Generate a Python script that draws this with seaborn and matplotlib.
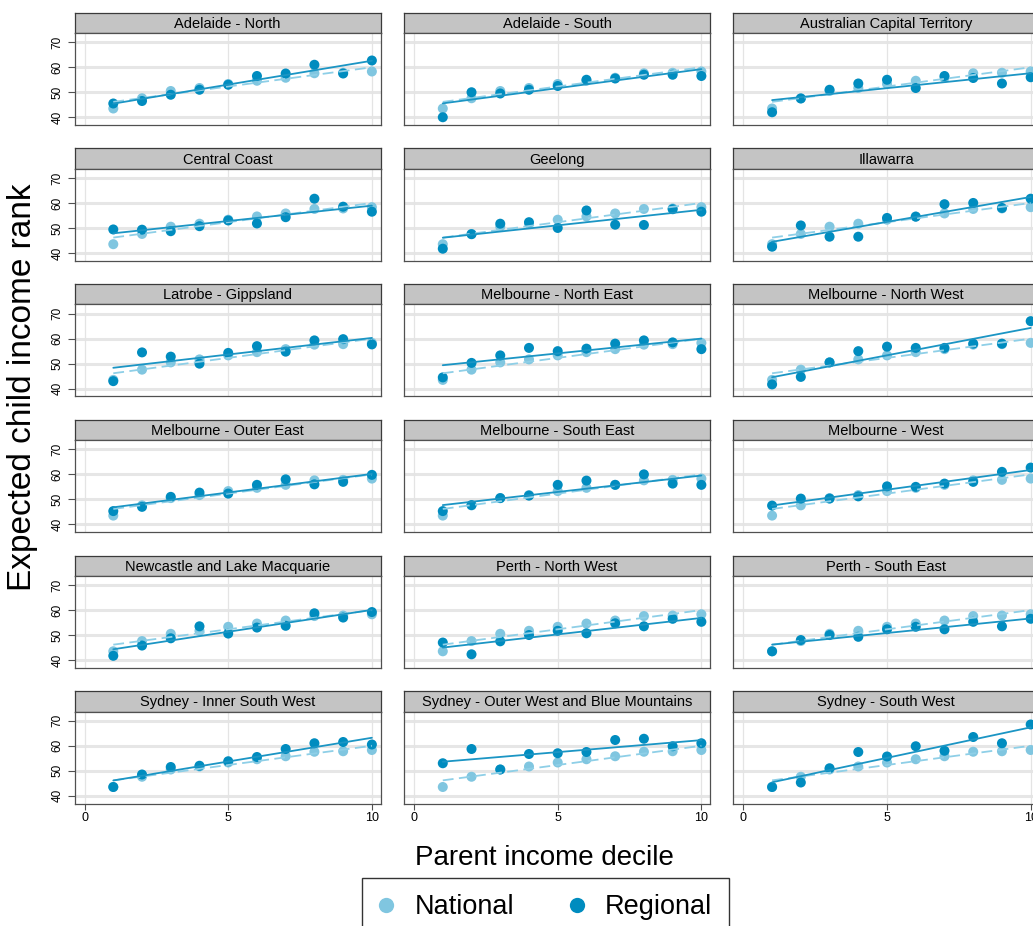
import numpy as np
import pandas as pd
import matplotlib
matplotlib.use("Agg")
import matplotlib.pyplot as plt
from matplotlib.lines import Line2D
import seaborn as sns

# ---------------------------------------------------------------- data
deciles = list(range(1, 11))

# national benchmark (same in every panel)
national = [43.5, 47.6, 50.5, 51.7, 53.3, 54.6, 55.8, 57.6, 57.8, 58.3]

region_names = [
    "Adelaide - North", "Adelaide - South", "Australian Capital Territory",
    "Central Coast", "Geelong", "Illawarra",
    "Latrobe - Gippsland", "Melbourne - North East", "Melbourne - North West",
    "Melbourne - Outer East", "Melbourne - South East", "Melbourne - West",
    "Newcastle and Lake Macquarie", "Perth - North West", "Perth - South East",
    "Sydney - Inner South West", "Sydney - Outer West and Blue Mountains",
    "Sydney - South West",
]

adelaide_north = [45.5, 46.5, 49.0, 51.0, 53.0, 56.5, 57.5, 61.0, 57.5, 62.7]
adelaide_south = [40.0, 50.0, 49.5, 51.0, 52.5, 55.0, 55.5, 57.0, 57.0, 56.5]
act = [42.0, 47.5, 51.0, 53.5, 55.0, 51.7, 56.5, 55.7, 53.5, 56.0]
central_coast = [49.4, 49.3, 48.7, 50.7, 53.0, 51.8, 54.3, 61.7, 58.5, 56.5]
geelong = [41.7, 47.5, 51.7, 52.3, 50.0, 57.0, 51.3, 51.2, 57.5, 56.5]
illawarra = [42.5, 51.0, 46.5, 46.5, 54.0, 54.5, 59.5, 60.0, 58.0, 61.7]
latrobe = [43.0, 54.5, 52.8, 50.0, 54.3, 57.0, 54.8, 59.3, 59.8, 57.7]
melb_north_east = [44.5, 50.3, 53.3, 56.3, 55.0, 56.0, 58.0, 59.3, 58.5, 55.8]
melb_north_west = [41.7, 44.7, 50.5, 55.0, 56.8, 56.3, 56.3, 58.0, 58.0, 67.0]
melb_outer_east = [45.3, 47.0, 51.0, 52.7, 52.3, 55.8, 58.0, 56.0, 57.0, 59.8]
melb_south_east = [45.3, 47.7, 50.5, 51.5, 55.8, 57.5, 55.8, 60.0, 56.3, 55.8]
melb_west = [47.5, 50.3, 50.3, 51.2, 55.2, 55.0, 56.3, 57.0, 61.0, 62.7]
newcastle = [41.7, 45.8, 48.7, 53.5, 50.6, 53.0, 53.7, 58.7, 57.0, 59.2]
perth_north_west = [47.0, 42.3, 47.5, 50.0, 51.7, 50.7, 54.7, 53.5, 56.5, 55.3]
perth_south_east = [43.5, 48.0, 50.0, 49.3, 52.3, 53.3, 52.3, 55.3, 53.5, 56.5]
syd_inner_south_west = [43.5, 48.5, 51.5, 52.0, 53.8, 55.5, 58.7, 61.0, 61.5, 60.5]
syd_outer_west = [53.0, 58.7, 50.5, 56.7, 57.0, 57.5, 62.3, 62.8, 59.8, 61.0]
syd_south_west = [43.5, 45.3, 51.0, 57.5, 55.7, 59.8, 58.0, 63.5, 61.0, 68.5]

regional_series = [
    adelaide_north, adelaide_south, act,
    central_coast, geelong, illawarra,
    latrobe, melb_north_east, melb_north_west,
    melb_outer_east, melb_south_east, melb_west,
    newcastle, perth_north_west, perth_south_east,
    syd_inner_south_west, syd_outer_west, syd_south_west,
]

x_ticks = [0, 5, 10]
y_ticks = [40, 50, 60, 70]

rows = []
for name, vals in zip(region_names, regional_series):
    for d, n, r in zip(deciles, national, vals):
        rows.append({"region": name, "decile": d, "series": "National", "rank": n})
        rows.append({"region": name, "decile": d, "series": "Regional", "rank": r})
df = pd.DataFrame(rows)

# ---------------------------------------------------------------- style
sns.set_theme(style="white")
plt.rcParams["font.family"] = ["Liberation Sans", "DejaVu Sans"]
plt.rcParams["text.color"] = "black"
plt.rcParams["xtick.color"] = "black"
plt.rcParams["ytick.color"] = "black"
plt.rcParams["axes.labelcolor"] = "black"

light_blue = "#80c6e0"
dark_blue = "#008cbf"
line_dark = "#1b95c4"
line_light = "#8ecfe7"
palette = {"National": light_blue, "Regional": dark_blue}

W, H = 1033, 926
fig = plt.figure(figsize=(W / 100, H / 100), dpi=100)

col_left = [74.5, 404, 733.3]
panel_w = 306
row_pitch = 135.7
strip_top0, strip_bot0, plot_bot0 = 12.7, 33.0, 125.0


def fig_box(left, top, width, height):
    return [left / W, 1 - (top + height) / H, width / W, height / H]


for i, name in enumerate(region_names):
    r, c = divmod(i, 3)
    left = col_left[c]
    s_top = strip_top0 + r * row_pitch
    s_bot = strip_bot0 + r * row_pitch
    p_bot = plot_bot0 + r * row_pitch

    # panel header
    sax = fig.add_axes(fig_box(left, s_top, panel_w, s_bot - s_top))
    sax.set_facecolor("#c4c4c4")
    sax.set_xticks([])
    sax.set_yticks([])
    for sp in sax.spines.values():
        sp.set_color("#3a3a3a")
        sp.set_linewidth(0.9)
    sax.text(0.5, 0.45, name, transform=sax.transAxes, ha="center",
             va="center", fontsize=10.5, color="black")

    ax = fig.add_axes(fig_box(left, s_bot, panel_w, p_bot - s_bot))
    sub = df[df["region"] == name]

    for yv in y_ticks:
        ax.axhline(yv, color="#e6e6e6", lw=2.2, zorder=0)
    for xv in x_ticks:
        ax.axvline(xv, color="#e4e4e4", lw=0.9, zorder=0)

    sns.scatterplot(data=sub, x="decile", y="rank", hue="series",
                    palette=palette, hue_order=["National", "Regional"],
                    s=52, edgecolor="none", legend=False, ax=ax, zorder=3)
    sns.regplot(data=sub[sub["series"] == "National"], x="decile", y="rank",
                scatter=False, ci=None, ax=ax,
                line_kws={"color": line_light, "lw": 1.3,
                          "dashes": (6, 3), "zorder": 4})
    sns.regplot(data=sub[sub["series"] == "Regional"], x="decile", y="rank",
                scatter=False, ci=None, ax=ax,
                line_kws={"color": line_dark, "lw": 1.3, "zorder": 5})

    ax.set_xlim(-0.35, 10.3)
    ax.set_ylim(36.9, 73.7)
    ax.set_xticks(x_ticks)
    ax.set_yticks(y_ticks)
    ax.set_xlabel("")
    ax.set_ylabel("")
    ax.grid(False)
    for sp in ax.spines.values():
        sp.set_color("#505050")
        sp.set_linewidth(0.9)

    if c == 0:
        ax.tick_params(axis="y", direction="out", length=5, width=0.8,
                       color="#505050", pad=3, labelsize=8.5, left=True,
                       labelcolor="black")
        for lab in ax.get_yticklabels():
            lab.set_rotation(90)
            lab.set_va("center")
    else:
        ax.tick_params(axis="y", left=False, labelleft=False)

    if r == 5:
        ax.tick_params(axis="x", direction="out", length=4, width=0.8,
                       color="#505050", pad=2, labelsize=9, bottom=True,
                       labelcolor="black")
    else:
        ax.tick_params(axis="x", bottom=False, labelbottom=False)

fig.text(23 / W, 1 - 387 / H, "Expected child income rank", rotation=90,
         ha="center", va="center", fontsize=24, color="black")
fig.text(544 / W, 1 - 865 / H, "Parent income decile", ha="center",
         va="baseline", fontsize=20, color="black")

handles = [Line2D([], [], marker="o", ls="", color=light_blue,
                  markeredgecolor="none", markersize=11),
           Line2D([], [], marker="o", ls="", color=dark_blue,
                  markeredgecolor="none", markersize=11)]
leg = fig.legend(handles, ["National", "Regional"], ncol=2, loc="upper left",
                 bbox_to_anchor=(362 / W, 1 - 878 / H), fontsize=19.5,
                 frameon=True, fancybox=False, edgecolor="black",
                 handlelength=0.6, handletextpad=0.75, columnspacing=2.0,
                 borderpad=0.6, borderaxespad=0)
leg.get_frame().set_linewidth(1.0)
for t in leg.get_texts():
    t.set_color("black")

fig.savefig("out.png", dpi=100)
